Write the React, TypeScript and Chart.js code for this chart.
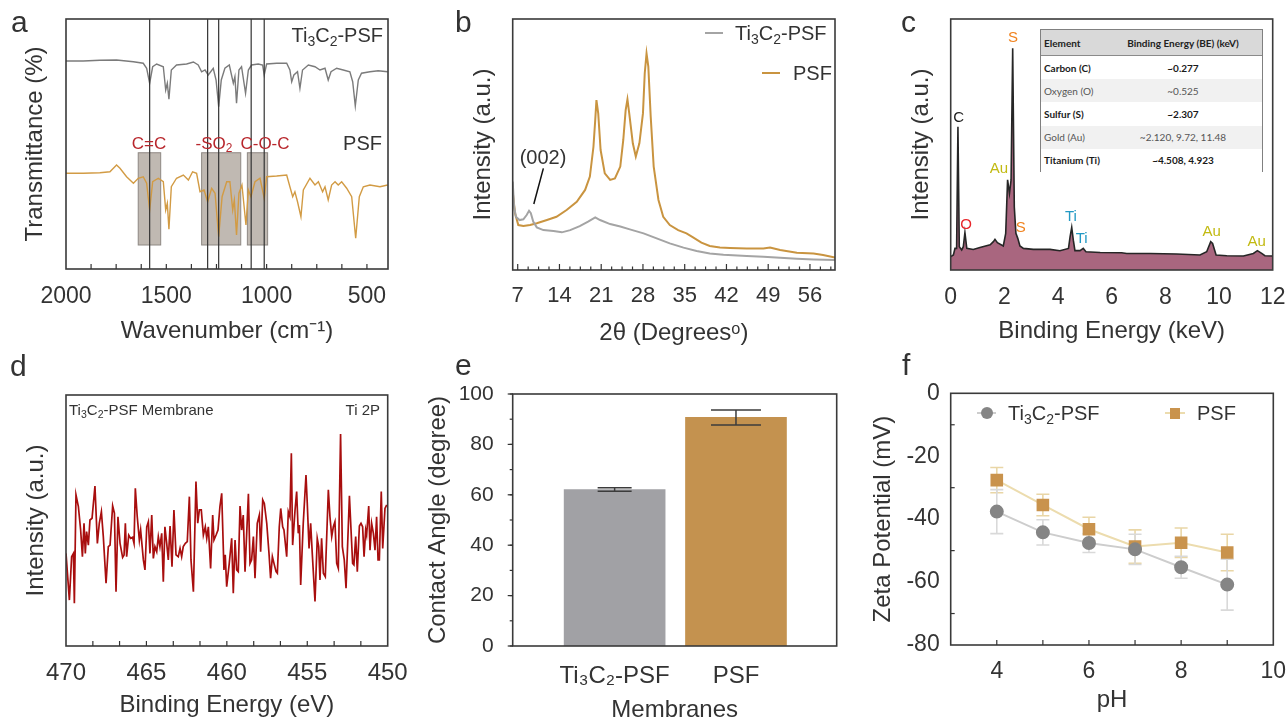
import React, { useEffect, useRef } from "react";
import { Chart, registerables } from "chart.js";

Chart.register(...registerables);

const FONT = "'Liberation Sans', Arial, Helvetica, sans-serif";
Chart.defaults.font.family = FONT;
Chart.defaults.color = "#333";

// ---------------- Panel a : FTIR ----------------
const ftirTiWavenumber = [2000, 1914, 1831, 1748, 1664, 1615, 1598, 1583, 1568, 1548, 1515, 1503, 1495, 1487, 1475, 1449, 1399, 1365, 1341, 1324, 1307, 1291, 1266, 1252, 1239, 1226, 1208, 1186, 1166, 1158, 1150, 1138, 1125, 1105, 1091, 1075, 1042, 1020, 1012, 1000, 950, 900, 884, 875, 864, 846, 834, 821, 792, 759, 734, 709, 693, 679, 651, 618, 585, 571, 558, 543, 527, 485, 444, 397];
const ftirTiTransmittance = [83.2, 83.2, 83.5, 83.6, 82.9, 82.3, 80.3, 74.3, 80.9, 82.0, 80.9, 71.6, 74.3, 67.9, 79.6, 81.6, 82.0, 82.8, 81.6, 78.9, 79.6, 77.6, 80.3, 75.6, 64.9, 75.6, 80.3, 81.6, 74.3, 76.9, 66.3, 79.6, 80.9, 70.3, 79.6, 81.6, 82.0, 81.6, 77.6, 82.0, 82.3, 82.3, 79.6, 74.9, 77.6, 78.9, 72.3, 79.6, 81.6, 80.9, 79.6, 80.3, 75.6, 78.9, 80.3, 79.6, 78.9, 74.9, 65.2, 75.6, 78.3, 78.9, 79.3, 78.9];
const ftirPsfWavenumber = [2000, 1914, 1831, 1781, 1748, 1731, 1698, 1664, 1640, 1615, 1598, 1583, 1568, 1540, 1515, 1503, 1495, 1487, 1475, 1449, 1415, 1390, 1369, 1349, 1332, 1312, 1294, 1274, 1257, 1239, 1222, 1199, 1183, 1169, 1161, 1150, 1138, 1123, 1103, 1091, 1078, 1058, 1033, 1012, 1000, 950, 900, 884, 870, 859, 846, 829, 817, 784, 759, 742, 721, 709, 693, 676, 659, 643, 626, 601, 576, 556, 538, 518, 485, 435, 397];
const ftirPsfTransmittance = [38.3, 38.3, 38.5, 38.9, 41.6, 40.3, 36.9, 34.3, 36.3, 36.9, 34.3, 23.6, 34.9, 36.3, 34.9, 23.6, 26.3, 15.9, 32.9, 36.3, 37.6, 35.6, 38.9, 38.3, 30.9, 31.6, 26.9, 32.3, 30.3, 12.9, 28.9, 34.9, 34.9, 23.6, 27.6, 13.6, 30.3, 33.6, 17.6, 31.6, 28.9, 34.9, 36.3, 28.3, 36.9, 37.2, 37.6, 32.9, 28.9, 30.9, 26.9, 20.9, 31.6, 36.3, 33.6, 34.9, 30.9, 32.9, 27.6, 33.6, 34.9, 33.6, 34.9, 32.3, 28.9, 12.3, 28.9, 32.9, 33.6, 32.9, 33.6];
const ftirTickLabels = [2000, 1500, 1000, 500];
const ftirMinorTicks = [1875, 1750, 1625, 1500, 1375, 1250, 1125, 1000, 875, 750, 625, 500];
const ftirMarkerLines = [1583, 1294, 1239, 1077, 1012];
const ftirBandRanges = [[1640, 1528], [1324, 1129], [1096, 995]];
const ftirBandLevels = [9.6, 46.5];

// ---------------- Panel b : XRD ----------------
const xrdPsfAngle = [6.16, 6.55, 7.1, 7.95, 9.07, 10.2, 11.9, 13.5, 15.2, 16.9, 18.3, 19.1, 19.7, 20.0, 20.2, 20.5, 20.9, 21.6, 22.5, 23.3, 24.2, 24.7, 25.1, 25.4, 25.7, 26.3, 26.8, 27.4, 28.0, 28.3, 28.6, 28.9, 29.3, 29.8, 30.6, 31.4, 32.5, 33.9, 35.3, 36.4, 37.8, 39.2, 40.9, 42.6, 45.4, 48.2, 49.3, 51.0, 53.8, 56.6, 58.2, 60.2];
const xrdPsfIntensity = [31.2, 22.6, 17.9, 17.5, 17.9, 18.6, 19.9, 21.2, 23.9, 27.2, 31.9, 37.2, 49.1, 59.8, 67.7, 62.4, 47.8, 38.5, 35.9, 36.5, 41.2, 51.8, 63.7, 68.0, 62.4, 50.5, 45.2, 50.5, 62.4, 78.4, 86.3, 81.0, 61.1, 41.2, 27.9, 21.2, 17.9, 15.9, 14.6, 13.0, 10.9, 9.6, 9.0, 8.8, 8.6, 8.6, 9.0, 8.0, 6.9, 6.6, 6.0, 5.0];
const xrdTiAngle = [6.16, 6.4, 6.7, 7.3, 7.95, 8.5, 8.9, 9.2, 9.6, 10.2, 11.3, 13.0, 14.4, 15.8, 17.4, 18.8, 20.0, 20.8, 22.5, 24.2, 25.8, 28.1, 30.3, 32.5, 34.8, 37.0, 39.2, 41.5, 45.4, 48.2, 51.0, 53.8, 56.6, 60.2];
const xrdTiIntensity = [35.2, 25.2, 21.2, 19.9, 20.2, 21.9, 23.6, 22.6, 19.3, 17.0, 15.9, 15.5, 15.0, 15.9, 17.5, 19.3, 21.0, 19.9, 18.3, 17.3, 16.2, 14.6, 12.6, 10.6, 8.9, 7.6, 6.6, 6.1, 5.6, 5.3, 4.9, 4.5, 4.2, 4.0];
const xrdTickLabels = [7, 14, 21, 28, 35, 42, 49, 56];
const xrdMinorTicks = [8.75, 10.5, 12.25, 15.75, 17.5, 19.25, 22.75, 24.5, 26.25, 29.75, 31.5, 33.25, 36.75, 38.5, 40.25, 43.75, 45.5, 47.25, 50.75, 52.5, 54.25, 57.75, 59.5];
const xrdPointerLine = [[11.3, 40.5], [9.7, 26.3]];

// ---------------- Panel c : EDS ----------------
const edsEnergy = [0, 0.1, 0.16, 0.22, 0.27, 0.32, 0.41, 0.47, 0.53, 0.6, 0.84, 1.09, 1.47, 1.59, 1.65, 1.74, 1.96, 2.05, 2.12, 2.19, 2.25, 2.31, 2.37, 2.43, 2.5, 2.58, 2.71, 3.08, 3.7, 4.07, 4.39, 4.45, 4.51, 4.57, 4.63, 4.82, 4.94, 5.04, 5.57, 6.37, 6.56, 7.43, 8.42, 9.29, 9.54, 9.69, 9.76, 9.89, 10.29, 10.91, 11.28, 11.43, 11.59, 11.71, 12];
const edsCounts = [5.3, 6.0, 8.6, 8.6, 57.1, 9.3, 8.0, 9.3, 14.9, 8.6, 8.2, 9.0, 10.0, 11.3, 12.2, 10.9, 9.6, 14.6, 35.9, 30.5, 35.9, 88.3, 25.2, 14.6, 12.6, 9.6, 8.6, 8.2, 8.2, 7.7, 8.6, 13.3, 17.0, 11.9, 7.7, 7.7, 8.6, 7.3, 7.0, 6.9, 6.6, 6.6, 6.4, 6.0, 7.3, 11.3, 10.6, 6.0, 5.7, 5.6, 6.6, 7.7, 6.6, 5.7, 5.6];
const edsTickLabels = [0, 2, 4, 6, 8, 10, 12];
const edsLabelText = ["C", "O", "Au", "S", "S", "Ti", "Ti", "Au", "Au"];
const edsLabelEnergy = [0.3, 0.57, 1.8, 2.32, 2.61, 4.48, 4.88, 9.73, 11.4];
const edsLabelLevel = [60.6, 17.9, 40.2, 92.4, 16.7, 21.1, 12.4, 15.1, 11.2];
const tableElements = ["Carbon (C)", "Oxygen (O)", "Sulfur (S)", "Gold (Au)", "Titanium (Ti)"];
const tableEnergies = ["~0.277", "~0.525", "~2.307", "~2.120, 9.72, 11.48", "~4.508, 4.923"];

// ---------------- Panel d : XPS Ti 2p ----------------
const xpsEnergy = [470.0, 469.79, 469.65, 469.54, 469.48, 469.38, 469.23, 469.09, 468.98, 468.88, 468.8, 468.72, 468.61, 468.51, 468.38, 468.2, 468.05, 467.93, 467.8, 467.68, 467.51, 467.37, 467.26, 467.1, 466.99, 466.89, 466.77, 466.64, 466.48, 466.39, 466.31, 466.23, 466.1, 465.98, 465.86, 465.77, 465.69, 465.57, 465.44, 465.36, 465.19, 465.09, 464.98, 464.88, 464.78, 464.67, 464.57, 464.47, 464.36, 464.26, 464.16, 464.05, 463.95, 463.85, 463.74, 463.64, 463.53, 463.41, 463.29, 463.16, 463.02, 462.91, 462.81, 462.71, 462.58, 462.46, 462.33, 462.23, 462.08, 461.92, 461.81, 461.71, 461.59, 461.46, 461.34, 461.25, 461.15, 461.01, 460.88, 460.8, 460.67, 460.55, 460.43, 460.32, 460.18, 460.1, 460.01, 459.85, 459.7, 459.6, 459.49, 459.39, 459.29, 459.18, 459.08, 458.98, 458.87, 458.66, 458.56, 458.46, 458.35, 458.25, 458.11, 457.98, 457.9, 457.77, 457.67, 457.52, 457.38, 457.28, 457.17, 457.07, 456.94, 456.86, 456.74, 456.65, 456.53, 456.45, 456.28, 456.18, 456.08, 455.99, 455.91, 455.76, 455.66, 455.56, 455.49, 455.41, 455.25, 455.08, 455.0, 454.89, 454.79, 454.69, 454.52, 454.38, 454.29, 454.21, 454.11, 454.0, 453.88, 453.69, 453.59, 453.48, 453.38, 453.28, 453.17, 453.07, 452.93, 452.82, 452.7, 452.59, 452.38, 452.28, 452.18, 452.1, 451.99, 451.89, 451.76, 451.66, 451.56, 451.47, 451.37, 451.31, 451.18, 451.1, 451.0, 450.89, 450.79, 450.69, 450.6, 450.52, 450.4, 450.31, 450.17, 450.06];
const xpsIntensity = [36.9, 18.3, 35.6, 36.9, 17.0, 60.2, 55.5, 46.2, 35.6, 48.9, 36.9, 45.6, 40.2, 50.2, 50.9, 63.7, 40.9, 48.9, 53.5, 43.6, 25.0, 39.6, 40.2, 55.8, 52.9, 21.6, 51.5, 40.9, 35.3, 36.3, 48.9, 35.6, 44.2, 42.9, 43.3, 40.9, 62.8, 51.5, 42.2, 46.2, 34.3, 30.3, 47.5, 49.5, 36.9, 52.2, 34.9, 39.6, 37.6, 43.6, 39.6, 44.9, 25.6, 47.5, 40.9, 34.3, 47.8, 31.6, 54.2, 36.3, 35.6, 38.9, 35.6, 39.6, 40.9, 41.6, 59.5, 34.3, 21.6, 65.5, 48.9, 54.2, 54.2, 44.2, 47.5, 42.9, 47.5, 30.9, 52.2, 42.2, 44.2, 46.2, 55.5, 60.8, 30.3, 36.3, 23.6, 32.9, 42.9, 21.0, 42.2, 30.3, 29.6, 55.8, 46.2, 52.2, 29.6, 60.6, 32.9, 34.3, 43.6, 27.0, 48.9, 52.2, 37.6, 58.2, 56.8, 48.9, 36.9, 27.0, 35.6, 32.9, 29.6, 29.0, 47.5, 54.8, 47.5, 46.2, 35.6, 53.5, 51.5, 76.8, 40.2, 54.2, 61.5, 44.9, 48.2, 24.3, 48.9, 68.1, 56.8, 38.9, 48.9, 36.9, 17.7, 42.9, 39.6, 26.3, 42.9, 29.0, 27.6, 62.2, 51.5, 43.6, 47.5, 49.5, 32.9, 30.9, 84.5, 39.6, 34.3, 23.0, 59.8, 46.2, 32.9, 32.3, 43.6, 29.6, 47.8, 48.9, 47.5, 35.6, 46.2, 44.2, 55.8, 38.2, 48.9, 44.9, 38.2, 51.5, 34.3, 34.3, 61.5, 38.9, 54.8, 56.2];
const xpsTickLabels = [470, 465, 460, 455, 450];
const xpsMinorTicks = [468.33, 466.67, 465, 463.33, 461.67, 460, 458.33, 456.67, 455, 453.33, 451.67];

// ---------------- Panel e : contact angle ----------------
const membranes = ["Ti\u2083C\u2082-PSF", "PSF"];
const contactAngle = [62.1, 90.7];
const contactAngleErr = [0.7, 3.0];
const contactTickLabels = [0, 20, 40, 60, 80, 100];
const contactTickMarks = [0, 10, 20, 30, 40, 50, 60, 70, 80, 90, 100];

// ---------------- Panel f : zeta potential ----------------
const pHValues = [4, 5, 6, 7, 8, 9];
const zetaTi = [-37.6, -44.2, -47.6, -49.6, -55.3, -60.8];
const zetaTiErr = [7.0, 4.0, 3.0, 4.8, 3.5, 8.1];
const zetaPsf = [-27.6, -35.5, -43.2, -48.7, -47.5, -50.6];
const zetaPsfErr = [4.0, 3.4, 3.8, 5.3, 4.7, 5.8];
const zetaXTicks = [4, 6, 8, 10];
const zetaXMarks = [4, 5, 6, 7, 8, 9];
const zetaYTicks = [0, -20, -40, -60, -80];
const zetaYMarks = [-10, -30, -50, -70];

// ---------------- helpers ----------------
const zip = (xs: number[], ys: number[]) => xs.map((x, i) => ({ x, y: ys[i] }));
const setTicks = (values: number[]) => (s: any) => {
  s.ticks = values.map((v) => ({ value: v }));
};
const fitX = (h: number) => (s: any) => {
  s.height = h;
  s.paddingLeft = 0;
  s.paddingRight = 0;
};
const fitY = (w: number) => (s: any) => {
  s.width = w;
  s.paddingTop = 0;
  s.paddingBottom = 0;
};
const TXT = "#333";

const framePlugin = (width = 1.6, color = "#3a3a3a") => ({
  id: "frame",
  afterDraw(chart: any) {
    const { ctx, chartArea: a } = chart;
    ctx.save();
    ctx.strokeStyle = color;
    ctx.lineWidth = width;
    ctx.strokeRect(a.left, a.top, a.right - a.left, a.bottom - a.top);
    ctx.restore();
  },
});

type MarkSpec = { axis: "x" | "y"; values: number[]; len: number; dir: "in" | "out" };
const marksPlugin = (items: MarkSpec[]) => ({
  id: "marks",
  afterDraw(chart: any) {
    const { ctx, chartArea: a, scales } = chart;
    ctx.save();
    ctx.strokeStyle = "#333";
    ctx.lineWidth = 1.2;
    items.forEach((it) => {
      const sc = scales[it.axis];
      it.values.forEach((v) => {
        const p = sc.getPixelForValue(v);
        ctx.beginPath();
        if (it.axis === "x") {
          const d = it.dir === "in" ? -it.len : it.len;
          ctx.moveTo(p, a.bottom);
          ctx.lineTo(p, a.bottom + d);
        } else {
          const d = it.dir === "in" ? it.len : -it.len;
          ctx.moveTo(a.left, p);
          ctx.lineTo(a.left + d, p);
        }
        ctx.stroke();
      });
    });
    ctx.restore();
  },
});

const noInteract = { legend: { display: false }, tooltip: { enabled: false } };
const hiddenY = (w: number, title: string, pad: number, min: number, max: number) => ({
  min,
  max,
  afterFit: fitY(w),
  grid: { display: false },
  border: { display: false },
  ticks: { display: false },
  title: { display: true, text: title, font: { size: 24 }, color: TXT, padding: { top: pad, bottom: 0 } },
});
const numLabel = (v: any) => String(v);

// ---------------- configs ----------------
const configA = () => ({
  type: "line",
  data: {
    datasets: [
      { data: zip(ftirTiWavenumber, ftirTiTransmittance), borderColor: "#7b7b7b", borderWidth: 1.4, pointRadius: 0 },
      { data: zip(ftirPsfWavenumber, ftirPsfTransmittance), borderColor: "#d29b44", borderWidth: 1.4, pointRadius: 0 },
    ],
  },
  options: {
    responsive: false,
    animation: false,
    events: [],
    layout: { padding: { top: 19, right: 52, left: 0, bottom: 0 } },
    plugins: noInteract,
    scales: {
      x: {
        type: "linear",
        min: 395,
        max: 2000,
        reverse: true,
        afterBuildTicks: setTicks(ftirTickLabels),
        afterFit: fitX(81),
        grid: { display: false },
        border: { display: false },
        ticks: { padding: 5.5, font: { size: 23 }, color: TXT, callback: numLabel, autoSkip: false, maxRotation: 0 },
        title: { display: true, text: "Wavenumber (cm\u207B\u00B9)", font: { size: 24 }, color: TXT, padding: { top: 0, bottom: 4 } },
      },
      y: hiddenY(66, "Transmittance (%)", 20.6, 0, 100),
    },
  },
  plugins: [
    {
      id: "ftirBands",
      beforeDatasetsDraw(chart: any) {
        const { ctx, scales } = chart;
        const { x, y } = scales;
        ctx.save();
        const yTop = y.getPixelForValue(ftirBandLevels[1]);
        const yBot = y.getPixelForValue(ftirBandLevels[0]);
        ftirBandRanges.forEach(([w1, w2]) => {
          const x1 = x.getPixelForValue(w1);
          const x2 = x.getPixelForValue(w2);
          ctx.fillStyle = "#c0b9b2";
          ctx.fillRect(Math.min(x1, x2), yTop, Math.abs(x2 - x1), yBot - yTop);
          ctx.strokeStyle = "#8e8883";
          ctx.lineWidth = 1;
          ctx.strokeRect(Math.min(x1, x2), yTop, Math.abs(x2 - x1), yBot - yTop);
        });
        ctx.restore();
      },
      afterDatasetsDraw(chart: any) {
        const { ctx, scales, chartArea: a } = chart;
        ctx.save();
        ctx.strokeStyle = "#333";
        ctx.lineWidth = 1.2;
        ftirMarkerLines.forEach((w) => {
          const px = scales.x.getPixelForValue(w);
          ctx.beginPath();
          ctx.moveTo(px, a.top);
          ctx.lineTo(px, a.bottom);
          ctx.stroke();
        });
        ctx.restore();
      },
    },
    framePlugin(),
    marksPlugin([{ axis: "x", values: ftirMinorTicks, len: 5, dir: "in" }]),
  ],
});

const configB = () => ({
  type: "line",
  data: {
    datasets: [
      { data: zip(xrdTiAngle, xrdTiIntensity), borderColor: "#a4a4a4", borderWidth: 2, pointRadius: 0 },
      { data: zip(xrdPsfAngle, xrdPsfIntensity), borderColor: "#c99440", borderWidth: 2, pointRadius: 0 },
    ],
  },
  options: {
    responsive: false,
    animation: false,
    events: [],
    layout: { padding: { top: 19, right: 25, left: 0, bottom: 0 } },
    plugins: noInteract,
    scales: {
      x: {
        type: "linear",
        min: 6.16,
        max: 60.2,
        afterBuildTicks: setTicks(xrdTickLabels),
        afterFit: fitX(80),
        grid: { display: false },
        border: { display: false },
        ticks: { padding: 4.3, font: { size: 22 }, color: TXT, callback: numLabel, autoSkip: false, maxRotation: 0 },
        title: { display: true, text: "2\u03B8 (Degrees\u1D52)", font: { size: 24 }, color: TXT, padding: { top: 0, bottom: 2.6 } },
      },
      y: hiddenY(72.7, "Intensity (a.u.)", 28.6, 0, 100),
    },
  },
  plugins: [
    {
      id: "xrdPointer",
      afterDatasetsDraw(chart: any) {
        const { ctx, scales } = chart;
        ctx.save();
        ctx.strokeStyle = "#111";
        ctx.lineWidth = 1.5;
        ctx.beginPath();
        ctx.moveTo(scales.x.getPixelForValue(xrdPointerLine[0][0]), scales.y.getPixelForValue(xrdPointerLine[0][1]));
        ctx.lineTo(scales.x.getPixelForValue(xrdPointerLine[1][0]), scales.y.getPixelForValue(xrdPointerLine[1][1]));
        ctx.stroke();
        ctx.restore();
      },
    },
    framePlugin(),
    marksPlugin([
      { axis: "x", values: xrdTickLabels, len: 6, dir: "in" },
      { axis: "x", values: xrdMinorTicks, len: 3.5, dir: "in" },
    ]),
  ],
});

const edsColors: Record<string, string> = { C: "#1a1a1a", O: "#e8262b", Au: "#c2ba12", S: "#f0821e", Ti: "#2299c4" };

const configC = () => ({
  type: "line",
  data: {
    datasets: [
      {
        data: zip(edsEnergy, edsCounts),
        borderColor: "#262626",
        borderWidth: 1.6,
        pointRadius: 0,
        fill: "start",
        backgroundColor: "#a9667f",
      },
    ],
  },
  options: {
    responsive: false,
    animation: false,
    events: [],
    layout: { padding: { top: 19, right: 15.3, left: 0, bottom: 0 } },
    plugins: noInteract,
    scales: {
      x: {
        type: "linear",
        min: 0,
        max: 12,
        afterBuildTicks: setTicks(edsTickLabels),
        afterFit: fitX(80),
        grid: { display: false },
        border: { display: false },
        ticks: { padding: 6.2, font: { size: 23 }, color: TXT, callback: numLabel, autoSkip: false, maxRotation: 0 },
        title: { display: true, text: "Binding Energy (keV)", font: { size: 24 }, color: TXT, padding: { top: 0, bottom: 3.9 } },
      },
      y: hiddenY(70.7, "Intensity (a.u.)", 26.6, 0, 100),
    },
  },
  plugins: [
    {
      id: "edsLabels",
      afterDatasetsDraw(chart: any) {
        const { ctx, scales } = chart;
        ctx.save();
        ctx.font = `15px ${FONT}`;
        ctx.textAlign = "center";
        ctx.textBaseline = "middle";
        edsLabelText.forEach((t, i) => {
          ctx.fillStyle = edsColors[t];
          ctx.fillText(t, scales.x.getPixelForValue(edsLabelEnergy[i]), scales.y.getPixelForValue(edsLabelLevel[i]));
        });
        ctx.restore();
      },
    },
    framePlugin(),
  ],
});

const configD = () => ({
  type: "line",
  data: {
    datasets: [{ data: zip(xpsEnergy, xpsIntensity), borderColor: "#a80e0e", borderWidth: 1.7, pointRadius: 0 }],
  },
  options: {
    responsive: false,
    animation: false,
    events: [],
    layout: { padding: { top: 40, right: 52.3, left: 0, bottom: 0 } },
    plugins: noInteract,
    scales: {
      x: {
        type: "linear",
        min: 450,
        max: 470,
        reverse: true,
        afterBuildTicks: setTicks(xpsTickLabels),
        afterFit: fitX(77),
        grid: { display: false },
        border: { display: false },
        ticks: { padding: 4.6, font: { size: 24 }, color: TXT, callback: numLabel, autoSkip: false, maxRotation: 0 },
        title: { display: true, text: "Binding Energy (eV)", font: { size: 24 }, color: TXT, padding: { top: 0, bottom: 3.6 } },
      },
      y: hiddenY(66, "Intensity (a.u.)", 21.6, 0, 100),
    },
  },
  plugins: [framePlugin(), marksPlugin([{ axis: "x", values: xpsMinorTicks, len: 5, dir: "in" }])],
});

const configE = () => ({
  type: "bar",
  data: {
    datasets: [
      {
        data: contactAngle.map((v, i) => ({ x: i + 1, y: v })),
        backgroundColor: ["#a1a1a5", "#c4924f"],
        borderWidth: 0,
        barThickness: 101,
      },
    ],
  },
  options: {
    responsive: false,
    animation: false,
    events: [],
    layout: { padding: { top: 39, right: 23.3, left: 0, bottom: 0 } },
    plugins: noInteract,
    scales: {
      x: {
        type: "linear",
        min: 0.16,
        max: 2.83,
        offset: false,
        afterBuildTicks: setTicks([1, 2]),
        afterFit: fitX(77),
        grid: { display: false },
        border: { display: false },
        ticks: { padding: 7.6, font: { size: 24 }, color: TXT, autoSkip: false, maxRotation: 0, callback: (v: any) => membranes[Math.round(v) - 1] },
        title: { display: true, text: "Membranes", font: { size: 24, lineHeight: 1 }, color: TXT, padding: { top: 0, bottom: 1 } },
      },
      y: {
        min: 0,
        max: 100,
        afterBuildTicks: setTicks(contactTickLabels),
        afterFit: fitY(92.7),
        grid: { display: false },
        border: { display: false },
        ticks: { padding: 11, font: { size: 21 }, color: TXT, callback: numLabel },
        title: { display: true, text: "Contact Angle (degree)", font: { size: 24, lineHeight: 1 }, color: TXT, padding: { top: 6, bottom: 0 } },
      },
    },
  },
  plugins: [
    {
      id: "barErrors",
      afterDatasetsDraw(chart: any) {
        const { ctx, scales } = chart;
        const caps = [17, 25];
        ctx.save();
        ctx.strokeStyle = "#3c3c3c";
        ctx.lineWidth = 1.5;
        contactAngle.forEach((v, i) => {
          const px = scales.x.getPixelForValue(i + 1);
          const yHi = scales.y.getPixelForValue(v + contactAngleErr[i]);
          const yLo = scales.y.getPixelForValue(v - contactAngleErr[i]);
          ctx.beginPath();
          ctx.moveTo(px, yHi);
          ctx.lineTo(px, yLo);
          ctx.moveTo(px - caps[i], yHi);
          ctx.lineTo(px + caps[i], yHi);
          ctx.moveTo(px - caps[i], yLo);
          ctx.lineTo(px + caps[i], yLo);
          ctx.stroke();
        });
        ctx.restore();
      },
    },
    framePlugin(),
    marksPlugin([
      { axis: "y", values: contactTickLabels, len: 5, dir: "out" },
      { axis: "y", values: contactTickMarks, len: 3, dir: "out" },
    ]),
  ],
});

const configF = () => ({
  type: "line",
  data: {
    datasets: [
      {
        data: zip(pHValues, zetaTi),
        borderColor: "#cdcdcd",
        borderWidth: 2,
        pointStyle: "circle",
        pointRadius: 6,
        pointBackgroundColor: "#858585",
        pointBorderColor: "#858585",
      },
      {
        data: zip(pHValues, zetaPsf),
        borderColor: "#ecdcae",
        borderWidth: 2,
        pointStyle: "rect",
        pointRadius: 7.5,
        pointBackgroundColor: "#c9934d",
        pointBorderColor: "#c9934d",
      },
    ],
  },
  options: {
    responsive: false,
    animation: false,
    events: [],
    layout: { padding: { top: 38.3, right: 14.7, left: 0, bottom: 0 } },
    plugins: noInteract,
    scales: {
      x: {
        type: "linear",
        min: 3,
        max: 10,
        afterBuildTicks: setTicks(zetaXTicks),
        afterFit: fitX(78),
        grid: { display: false },
        border: { display: false },
        ticks: { padding: 4.7, font: { size: 23 }, color: TXT, callback: numLabel, autoSkip: false, maxRotation: 0 },
        title: { display: true, text: "pH", font: { size: 24 }, color: TXT, padding: { top: 0, bottom: 8.6 } },
      },
      y: {
        min: -80,
        max: 0,
        afterBuildTicks: setTicks(zetaYTicks),
        afterFit: fitY(90.7),
        grid: { display: false },
        border: { display: false },
        ticks: { padding: 3, font: { size: 23 }, color: TXT, callback: numLabel },
        title: { display: true, text: "Zeta Potential (mV)", font: { size: 24 }, color: TXT, padding: { top: 8.6, bottom: 0 } },
      },
    },
  },
  plugins: [
    {
      id: "zetaErrors",
      beforeDatasetsDraw(chart: any) {
        const { ctx, scales } = chart;
        const series = [
          { v: zetaPsf, e: zetaPsfErr, c: "#e9d6a6" },
          { v: zetaTi, e: zetaTiErr, c: "#d9d9d9" },
        ];
        ctx.save();
        ctx.lineWidth = 1.6;
        series.forEach((s) => {
          ctx.strokeStyle = s.c;
          pHValues.forEach((p, i) => {
            const px = scales.x.getPixelForValue(p);
            const yHi = scales.y.getPixelForValue(s.v[i] + s.e[i]);
            const yLo = scales.y.getPixelForValue(s.v[i] - s.e[i]);
            ctx.beginPath();
            ctx.moveTo(px, yHi);
            ctx.lineTo(px, yLo);
            ctx.moveTo(px - 6.5, yHi);
            ctx.lineTo(px + 6.5, yHi);
            ctx.moveTo(px - 6.5, yLo);
            ctx.lineTo(px + 6.5, yLo);
            ctx.stroke();
          });
        });
        ctx.restore();
      },
    },
    framePlugin(),
    marksPlugin([
      { axis: "x", values: zetaXMarks, len: 5, dir: "in" },
      { axis: "y", values: zetaYMarks, len: 4, dir: "in" },
    ]),
  ],
});

// ---------------- components ----------------
function ChartCanvas({ left, top, width, height, make }: any) {
  const ref = useRef<HTMLCanvasElement | null>(null);
  useEffect(() => {
    const chart = new Chart(ref.current as HTMLCanvasElement, make());
    return () => chart.destroy();
  }, []);
  return <canvas ref={ref} width={width} height={height} style={{ position: "absolute", left, top, width, height }} />;
}

const Sub = ({ children }: any) => (
  <sub style={{ fontSize: "0.7em", verticalAlign: "-0.28em", lineHeight: 0 }}>{children}</sub>
);

function Label({ x, y, size, color = TXT, align = "left", children }: any) {
  const style: any = {
    position: "absolute",
    top: y - size / 2,
    fontSize: size,
    lineHeight: `${size}px`,
    color,
    whiteSpace: "nowrap",
    fontFamily: FONT,
  };
  if (align === "left") style.left = x;
  else if (align === "right") style.right = 1288 - x;
  else {
    style.left = x;
    style.transform = "translateX(-50%)";
  }
  return <div style={style}>{children}</div>;
}

const TiC = () => (
  <>
    Ti<Sub>3</Sub>C<Sub>2</Sub>-PSF
  </>
);

const RED = "#b8262c";

function EdsTable() {
  return (
    <div
      style={{
        position: "absolute",
        left: 1040,
        top: 29,
        width: 223,
        height: 143,
        boxSizing: "border-box",
        border: "1px solid #808080",
        background: "#fff",
        fontFamily: "Lato, 'Open Sans', sans-serif",
        fontSize: 10,
        color: "#222",
      }}
    >
      <div style={{ display: "flex", height: 26, background: "#d9d9d9", borderBottom: "1px solid #8a8a8a", boxSizing: "border-box", alignItems: "center", fontWeight: 700 }}>
        <div style={{ width: 63, paddingLeft: 3, boxSizing: "border-box" }}>Element</div>
        <div style={{ flex: 1, textAlign: "center" }}>Binding Energy (BE) (keV)</div>
      </div>
      {tableElements.map((el, i) => (
        <div
          key={el}
          style={{
            display: "flex",
            height: 23.2,
            alignItems: "center",
            background: i % 2 === 1 ? "#f1f1f1" : "#fff",
            fontWeight: i % 2 === 0 ? 700 : 400,
            color: i % 2 === 0 ? "#1a1a1a" : "#555",
          }}
        >
          <div style={{ width: 63, paddingLeft: 3, boxSizing: "border-box" }}>{el}</div>
          <div style={{ flex: 1, textAlign: "center" }}>{tableEnergies[i]}</div>
        </div>
      ))}
    </div>
  );
}

export default function App() {
  return (
    <div style={{ position: "absolute", left: 0, top: 0, width: 1288, height: 723, background: "#fff", overflow: "hidden" }}>
      <ChartCanvas left={0} top={0} width={440} height={350} make={configA} />
      <ChartCanvas left={440} top={0} width={420} height={350} make={configB} />
      <ChartCanvas left={880} top={0} width={408} height={350} make={configC} />
      <ChartCanvas left={0} top={355} width={440} height={368} make={configD} />
      <ChartCanvas left={420} top={355} width={440} height={368} make={configE} />
      <ChartCanvas left={860} top={355} width={428} height={368} make={configF} />

      {/* panel letters */}
      <Label x={11} y={21.6} size={30}>a</Label>
      <Label x={455} y={21.6} size={30}>b</Label>
      <Label x={901} y={21.6} size={30}>c</Label>
      <Label x={10} y={366} size={30}>d</Label>
      <Label x={455} y={364.6} size={30}>e</Label>
      <Label x={902} y={364.6} size={30}>f</Label>

      {/* panel a annotations */}
      <Label x={383} y={35} size={20} align="right"><TiC /></Label>
      <Label x={382} y={143} size={20} align="right">PSF</Label>
      <Label x={149} y={143} size={17} align="center" color={RED}>C=C</Label>
      <Label x={214} y={143} size={17} align="center" color={RED}>-SO<Sub>2</Sub></Label>
      <Label x={265} y={143} size={17} align="center" color={RED}>C-O-C</Label>

      {/* panel b legend */}
      <div style={{ position: "absolute", left: 705, top: 32, width: 18, height: 2, background: "#a4a4a4" }} />
      <Label x={735} y={33} size={20}><TiC /></Label>
      <div style={{ position: "absolute", left: 762, top: 72, width: 18, height: 2, background: "#c99440" }} />
      <Label x={793} y={73} size={20}>PSF</Label>
      <Label x={543} y={157} size={20} align="center">(002)</Label>

      {/* panel c table */}
      <EdsTable />

      {/* panel d annotations */}
      <Label x={69} y={409} size={15}>Ti<Sub>3</Sub>C<Sub>2</Sub>-PSF Membrane</Label>
      <Label x={380} y={409} size={15} align="right">Ti 2P</Label>

      {/* panel f legend */}
      <div style={{ position: "absolute", left: 977, top: 412, width: 19, height: 2, background: "#cdcdcd" }} />
      <div style={{ position: "absolute", left: 980.7, top: 407.3, width: 12, height: 12, borderRadius: 6, background: "#858585" }} />
      <Label x={1008} y={413} size={20}><TiC /></Label>
      <div style={{ position: "absolute", left: 1165, top: 412, width: 20, height: 2, background: "#ecdcae" }} />
      <div style={{ position: "absolute", left: 1169.7, top: 408, width: 10.6, height: 10.6, background: "#c9934d" }} />
      <Label x={1197} y={413} size={20}>PSF</Label>
    </div>
  );
}
